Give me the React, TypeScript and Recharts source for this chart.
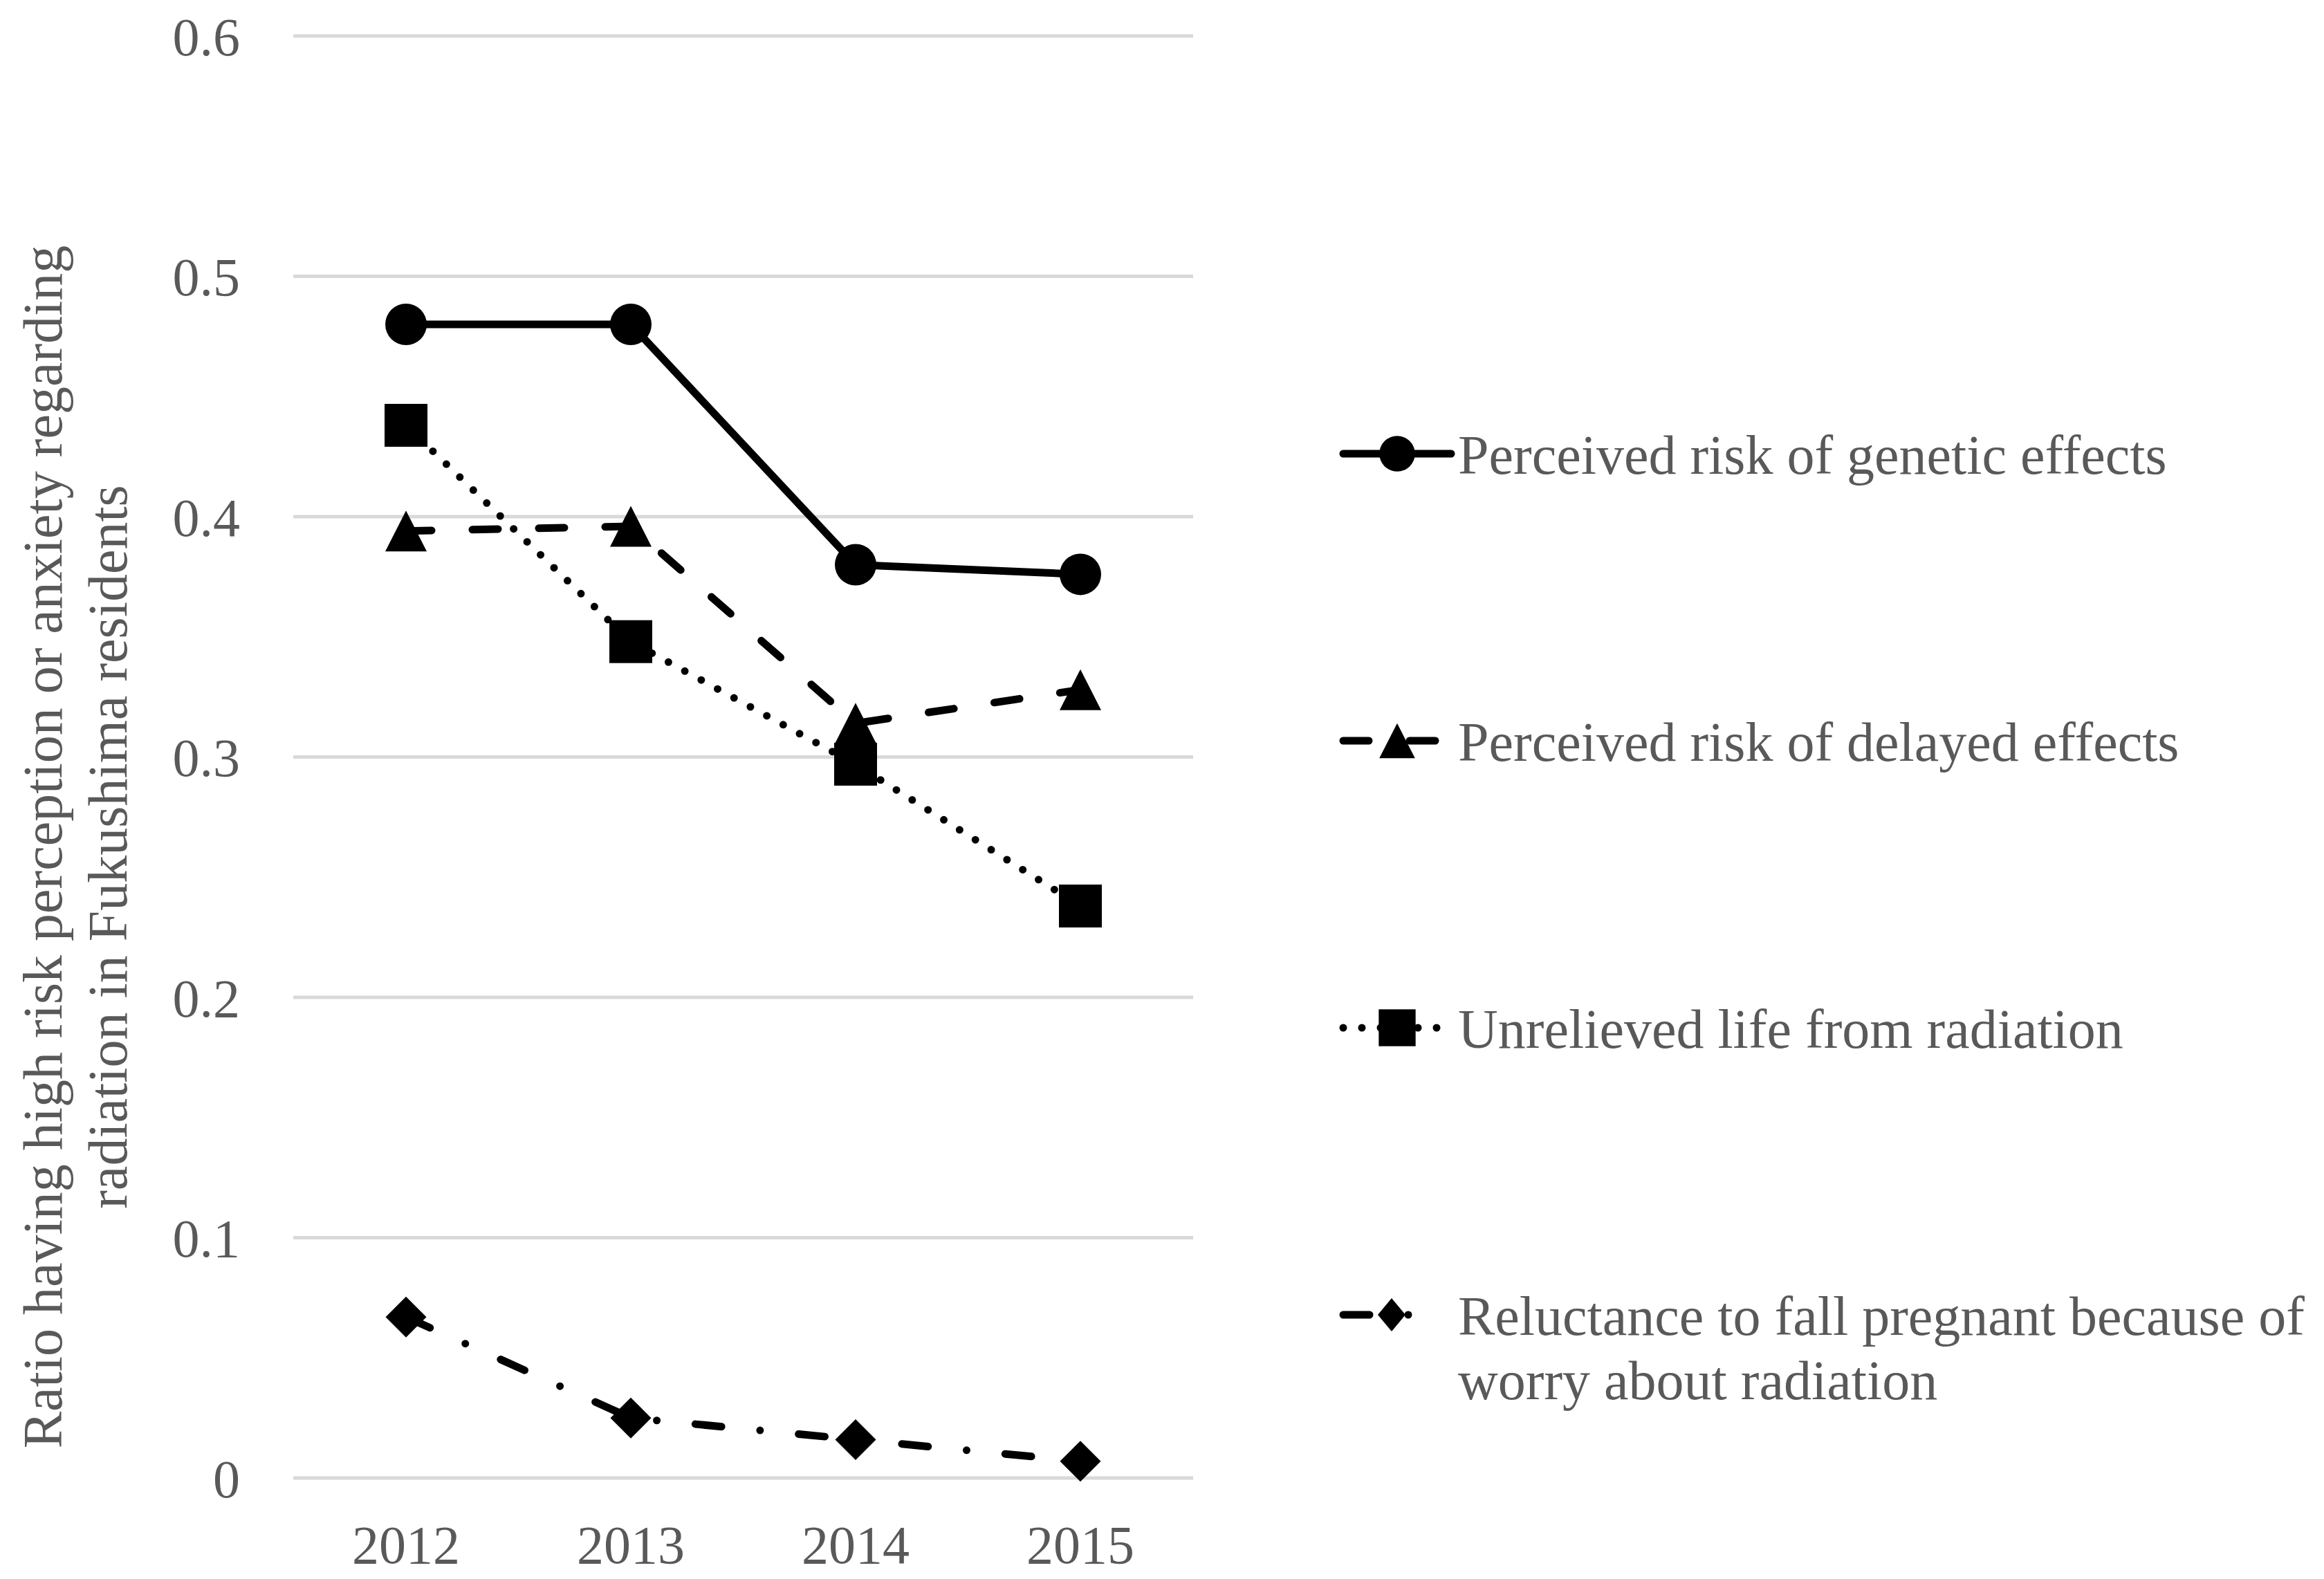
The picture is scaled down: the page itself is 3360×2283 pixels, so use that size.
import React from 'react';
import { LineChart, Line, XAxis, YAxis, CartesianGrid, Legend, Label } from 'recharts';

// ---------- data ----------
const years = ['2012', '2013', '2014', '2015'];
const genetic = [0.48, 0.48, 0.38, 0.376];
const delayed = [0.394, 0.396, 0.314, 0.328];
const unrelieved = [0.438, 0.348, 0.297, 0.238];
const reluctance = [0.067, 0.025, 0.016, 0.007];
const yTicks = [0, 0.1, 0.2, 0.3, 0.4, 0.5, 0.6];
const seriesKeys = ['genetic', 'delayed', 'unrelieved', 'reluctance'];
const seriesNames = [
  'Perceived risk of genetic effects',
  'Perceived risk of delayed effects',
  'Unrelieved life from radiation',
  'Reluctance to fall pregnant because of worry about radiation',
];
const reluctanceLegendLines = ['Reluctance to fall pregnant because of', 'worry about radiation'];
const yLabelLines = [
  'Ratio having high risk perception or anxiety regarding',
  'radiation in Fukushima residents',
];

const data = years.map((year, i) => ({
  year,
  genetic: genetic[i],
  delayed: delayed[i],
  unrelieved: unrelieved[i],
  reluctance: reluctance[i],
}));

// ---------- styles ----------
const FONT = "'Liberation Serif', 'Times New Roman', serif";
const TEXT = '#595959';
const GRID = '#d9d9d9';
const LW = 11;

type Shape = 'circle' | 'triangle' | 'square' | 'diamond';

const styles: Record<string, { shape: Shape; dash?: string }> = {
  genetic: { shape: 'circle' },
  delayed: { shape: 'triangle', dash: '37 59' },
  unrelieved: { shape: 'square', dash: '0 27' },
  reluctance: { shape: 'diamond', dash: '38 56 0 56' },
};

function Marker({ shape, cx, cy, k }: { shape: Shape; cx: number; cy: number; k: number }) {
  if (cx == null || cy == null) return null;
  if (shape === 'circle') return <circle cx={cx} cy={cy} r={30 * k} fill="#000" />;
  if (shape === 'square') {
    const h = 31 * k;
    return <rect x={cx - h} y={cy - h} width={2 * h} height={2 * h} fill="#000" />;
  }
  if (shape === 'triangle') {
    const w = 30 * k;
    const h = 29.5 * k;
    return <polygon points={`${cx},${cy - h} ${cx + w},${cy + h} ${cx - w},${cy + h}`} fill="#000" />;
  }
  const w = 29.5 * k;
  const h = 29.5 * k;
  return <polygon points={`${cx},${cy - h} ${cx + w},${cy} ${cx},${cy + h} ${cx - w},${cy}`} fill="#000" />;
}

const makeDot = (key: string) => (p: any) => (
  <Marker key={`${key}-${p.index}`} shape={styles[key].shape} cx={p.cx} cy={p.cy} k={1} />
);

function YAxisTitle(props: any) {
  const vb = props.viewBox || { x: 0, y: 44, width: 416, height: 2085 };
  const cy = vb.y + vb.height / 2 + 130;
  const xs = [vb.x + 81, vb.x + 175];
  return (
    <g>
      {yLabelLines.map((line, i) => (
        <text
          key={i}
          x={xs[i]}
          y={cy}
          transform={`rotate(-90, ${xs[i]}, ${cy})`}
          textAnchor="middle"
          fill={TEXT}
          fontFamily={FONT}
          fontSize={80}
        >
          {line}
        </text>
      ))}
    </g>
  );
}

function LegendContent(props: any) {
  const payload = [...(props.payload || [])].sort(
    (a: any, b: any) => seriesKeys.indexOf(a.dataKey) - seriesKeys.indexOf(b.dataKey)
  );
  return (
    <svg width={1420} height={1500} style={{ overflow: 'visible' }}>
      {payload.map((entry: any, i: number) => {
        const key = entry.dataKey as string;
        const st = styles[key];
        if (!st) return null;
        const y = 88 + i * 415;
        const lines = key === 'reluctance' ? reluctanceLegendLines : [entry.value];
        const x1 = 14;
        const x2 = key === 'reluctance' ? 124 : 170;
        const mx = key === 'reluctance' ? 84 : 92;
        return (
          <g key={key}>
            <line
              x1={x1}
              y1={y}
              x2={x2}
              y2={y}
              stroke="#000"
              strokeWidth={LW}
              strokeDasharray={st.dash}
              strokeLinecap="round"
            />
            {st.shape === 'diamond' ? (
              <polygon points={`${mx},${y - 24} ${mx + 20},${y} ${mx},${y + 24} ${mx - 20},${y}`} fill="#000" />
            ) : (
              <Marker shape={st.shape} cx={mx} cy={y} k={0.86} />
            )}
            {lines.map((t: string, j: number) => (
              <text key={j} x={180} y={y + 29 + j * 93} fill={TEXT} fontFamily={FONT} fontSize={80}>
                {t}
              </text>
            ))}
          </g>
        );
      })}
    </svg>
  );
}

export default function App() {
  return (
    <div style={{ width: 3344, height: 2270, background: '#fff' }}>
      <LineChart
        width={3344}
        height={2270}
        data={data}
        margin={{ top: 44, right: 1627, bottom: 1, left: 0 }}
      >
        <CartesianGrid vertical={false} stroke={GRID} strokeWidth={5} />
        <XAxis
          dataKey="year"
          axisLine={false}
          tickLine={false}
          tickSize={0}
          tickMargin={68}
          height={140}
          padding={{ left: 163, right: 163 }}
          tick={{ fill: TEXT, fontSize: 78, fontFamily: FONT }}
          interval={0}
        />
        <YAxis
          domain={[0, 0.6]}
          ticks={yTicks}
          width={416}
          axisLine={false}
          tickLine={false}
          tickSize={0}
          tickMargin={77}
          tick={{ fill: TEXT, fontSize: 78, fontFamily: FONT }}
          tickFormatter={(v: number) => String(v)}
          interval={0}
        >
          <Label content={YAxisTitle} />
        </YAxis>
        <Legend
          layout="vertical"
          align="center"
          verticalAlign="middle"
          wrapperStyle={{ position: 'absolute', left: 1920, top: 560, width: 1420, height: 1500 }}
          content={LegendContent}
        />
        {seriesKeys.map((k, i) => (
          <Line
            key={k}
            type="linear"
            dataKey={k}
            name={seriesNames[i]}
            stroke="#000"
            strokeWidth={LW}
            strokeDasharray={styles[k].dash}
            strokeLinecap="round"
            strokeLinejoin="round"
            dot={makeDot(k)}
            activeDot={false}
            isAnimationActive={false}
          />
        ))}
      </LineChart>
    </div>
  );
}
